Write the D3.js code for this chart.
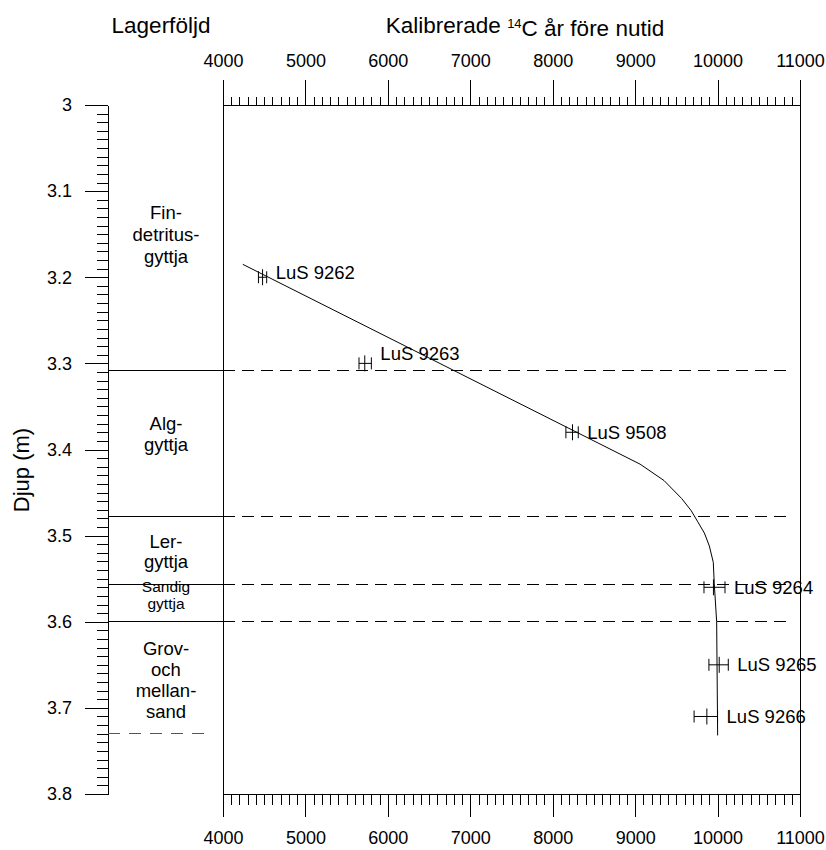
<!DOCTYPE html>
<html>
<head>
<meta charset="utf-8">
<script src="https://cdn.jsdelivr.net/npm/d3@7"></script>
<style>
  body { margin: 0; background: #fff; }
  svg { font-family: "Liberation Sans", Arial, sans-serif; }
</style>
</head>
<body>
<svg width="826" height="850"></svg>
<script>
// radiocarbon samples
const sampleIds = ["LuS 9262", "LuS 9263", "LuS 9508", "LuS 9264", "LuS 9265", "LuS 9266"];
const sampleDepth = [3.20, 3.30, 3.38, 3.56, 3.65, 3.71];
const sampleAge = [4480, 5720, 8240, 9950, 10020, 9870];
const sampleLo = [4430, 5650, 8160, 9835, 9895, 9715];
const sampleHi = [4530, 5800, 8310, 10090, 10130, 10000];

// age-depth model
const modelAge = [4240, 9060, 9350, 9565, 9680, 9760, 9840, 9900, 9948, 9960, 9989, 10001];
const modelDepth = [3.185, 3.417, 3.436, 3.457, 3.471, 3.484, 3.497, 3.512, 3.531, 3.556, 3.600, 3.732];

// lithology
const unitTop = [3.0, 3.308, 3.478, 3.557, 3.60];
const unitBottom = [3.308, 3.478, 3.557, 3.60, 3.73];
const unitNames = ["Fin-|detritus-|gyttja", "Alg-|gyttja", "Ler-|gyttja", "Sandig|gyttja", "Grov-|och|mellan-|sand"];
const boundaries = [3.308, 3.478, 3.557, 3.60];

// axis ticks
const ageTicks = [4000, 5000, 6000, 7000, 8000, 9000, 10000, 11000];
const depthTicks = [3, 3.1, 3.2, 3.3, 3.4, 3.5, 3.6, 3.7, 3.8];

const svg = d3.select("svg");
const x = d3.scaleLinear().domain([4000, 11000]).range([223, 800]);
const y = d3.scaleLinear().domain([3, 3.8]).range([105, 794]);

const minorAge = d3.range(4000, 11001, 100);
const minorDepth = d3.range(300, 381).map(d => d / 100);

function styleAxis(g, size) {
  g.selectAll("line").attr("stroke", "#000").attr("shape-rendering", "crispEdges");
  g.selectAll("path").attr("stroke", "#000").attr("shape-rendering", "crispEdges");
  g.selectAll("text").attr("fill", "#000").style("font-size", size + "px");
}

// top axis
svg.append("g").attr("transform", "translate(0,105)")
  .call(d3.axisTop(x).tickValues(minorAge).tickSize(8).tickFormat("").tickSizeOuter(0))
  .call(g => styleAxis(g, 18));
svg.append("g").attr("transform", "translate(0,105)")
  .call(d3.axisTop(x).tickValues(ageTicks).tickSize(25).tickPadding(13).tickSizeOuter(0).tickFormat(d3.format("d")))
  .call(g => styleAxis(g, 18));

// bottom axis
svg.append("g").attr("transform", "translate(0,794)")
  .call(d3.axisBottom(x).tickValues(minorAge).tickSize(11).tickFormat("").tickSizeOuter(0))
  .call(g => styleAxis(g, 18));
svg.append("g").attr("transform", "translate(0,794)")
  .call(d3.axisBottom(x).tickValues(ageTicks).tickSize(23).tickPadding(14).tickSizeOuter(0).tickFormat(d3.format("d")))
  .call(g => styleAxis(g, 18));

// plot sides
svg.append("g").selectAll("line").data([4000, 11000]).join("line")
  .attr("x1", d => x(d)).attr("x2", d => x(d))
  .attr("y1", y(3)).attr("y2", y(3.8))
  .attr("stroke", "#000").attr("shape-rendering", "crispEdges");

// left depth axis
svg.append("g").attr("transform", "translate(108,0)")
  .call(d3.axisLeft(y).tickValues(minorDepth).tickSize(11).tickFormat("").tickSizeOuter(0))
  .call(g => styleAxis(g, 18));
svg.append("g").attr("transform", "translate(108,0)")
  .call(d3.axisLeft(y).tickValues(depthTicks).tickSize(23).tickPadding(13).tickSizeOuter(0).tickFormat(d => d))
  .call(g => styleAxis(g, 18));

// lithology boundaries
svg.append("g").selectAll("line").data(boundaries).join("line")
  .attr("x1", 108).attr("x2", 233)
  .attr("y1", d => y(d)).attr("y2", d => y(d))
  .attr("stroke", "#000").attr("shape-rendering", "crispEdges");
svg.append("g").selectAll("line").data(boundaries).join("line")
  .attr("x1", 223).attr("x2", 790)
  .attr("y1", d => y(d)).attr("y2", d => y(d))
  .attr("stroke", "#000").attr("stroke-dasharray", "12,7").attr("shape-rendering", "crispEdges");
svg.append("line")
  .attr("x1", 108).attr("x2", 213)
  .attr("y1", y(3.73)).attr("y2", y(3.73))
  .attr("stroke", "#555").attr("stroke-dasharray", "12,9").attr("shape-rendering", "crispEdges");

// unit labels
const labelNudge = [-3, -9, 1, -8, 2];
const labelSize = [18.5, 18.5, 18.5, 15.5, 18.5];
const lineGap = [22, 21, 20, 17, 21];
unitNames.forEach((name, i) => {
  const lines = name.split("|");
  const mid = (y(unitTop[i]) + y(unitBottom[i])) / 2 + labelNudge[i];
  const t = svg.append("text")
    .attr("x", 166).attr("text-anchor", "middle")
    .style("font-size", labelSize[i] + "px");
  lines.forEach((ln, j) => {
    t.append("tspan")
      .attr("x", 166)
      .attr("y", mid + (j - (lines.length - 1) / 2) * lineGap[i])
      .attr("dy", "0.35em")
      .text(ln);
  });
});

// age-depth curve
const model = modelAge.map((a, i) => [a, modelDepth[i]]);
svg.append("path")
  .datum(model)
  .attr("fill", "none").attr("stroke", "#000").attr("stroke-width", 1)
  .attr("d", d3.line().x(d => x(d[0])).y(d => y(d[1])));

// sample error bars
const samples = sampleIds.map((id, i) => ({
  id, depth: sampleDepth[i], age: sampleAge[i], lo: sampleLo[i], hi: sampleHi[i]
}));
const labelLift = [5, 10, 0, 0, 0, 0];

const sg = svg.append("g").selectAll("g").data(samples).join("g")
  .attr("stroke", "#000").attr("stroke-width", 1);
sg.append("line")
  .attr("x1", d => x(d.lo)).attr("x2", d => x(d.hi))
  .attr("y1", d => y(d.depth)).attr("y2", d => y(d.depth));
sg.append("line")
  .attr("x1", d => x(d.lo)).attr("x2", d => x(d.lo))
  .attr("y1", d => y(d.depth) - 6).attr("y2", d => y(d.depth) + 6);
sg.append("line")
  .attr("x1", d => x(d.hi)).attr("x2", d => x(d.hi))
  .attr("y1", d => y(d.depth) - 6).attr("y2", d => y(d.depth) + 6);
sg.append("line")
  .attr("x1", d => x(d.age)).attr("x2", d => x(d.age))
  .attr("y1", d => y(d.depth) - 8).attr("y2", d => y(d.depth) + 8);

svg.append("g").selectAll("text").data(samples).join("text")
  .attr("x", d => x(d.hi) + 9)
  .attr("y", (d, i) => y(d.depth) - labelLift[i])
  .attr("dy", "0.35em")
  .style("font-size", "18.5px")
  .text(d => d.id);

// titles
svg.append("text")
  .attr("x", 161).attr("y", 25).attr("dy", "0.35em")
  .attr("text-anchor", "middle").style("font-size", "22.5px")
  .text("Lagerföljd");

const title = svg.append("text")
  .attr("x", 525).attr("y", 25).attr("dy", "0.35em")
  .attr("text-anchor", "middle").style("font-size", "22.5px");
title.append("tspan").text("Kalibrerade ");
title.append("tspan").attr("dy", "-0.35em").style("font-size", "13px").text("14");
title.append("tspan").attr("dy", "0.35em").text("C år före nutid");

svg.append("text")
  .attr("transform", "translate(21,470) rotate(-90)")
  .attr("text-anchor", "middle").attr("dy", "0.35em")
  .style("font-size", "22px")
  .text("Djup (m)");
</script>
</body>
</html>
